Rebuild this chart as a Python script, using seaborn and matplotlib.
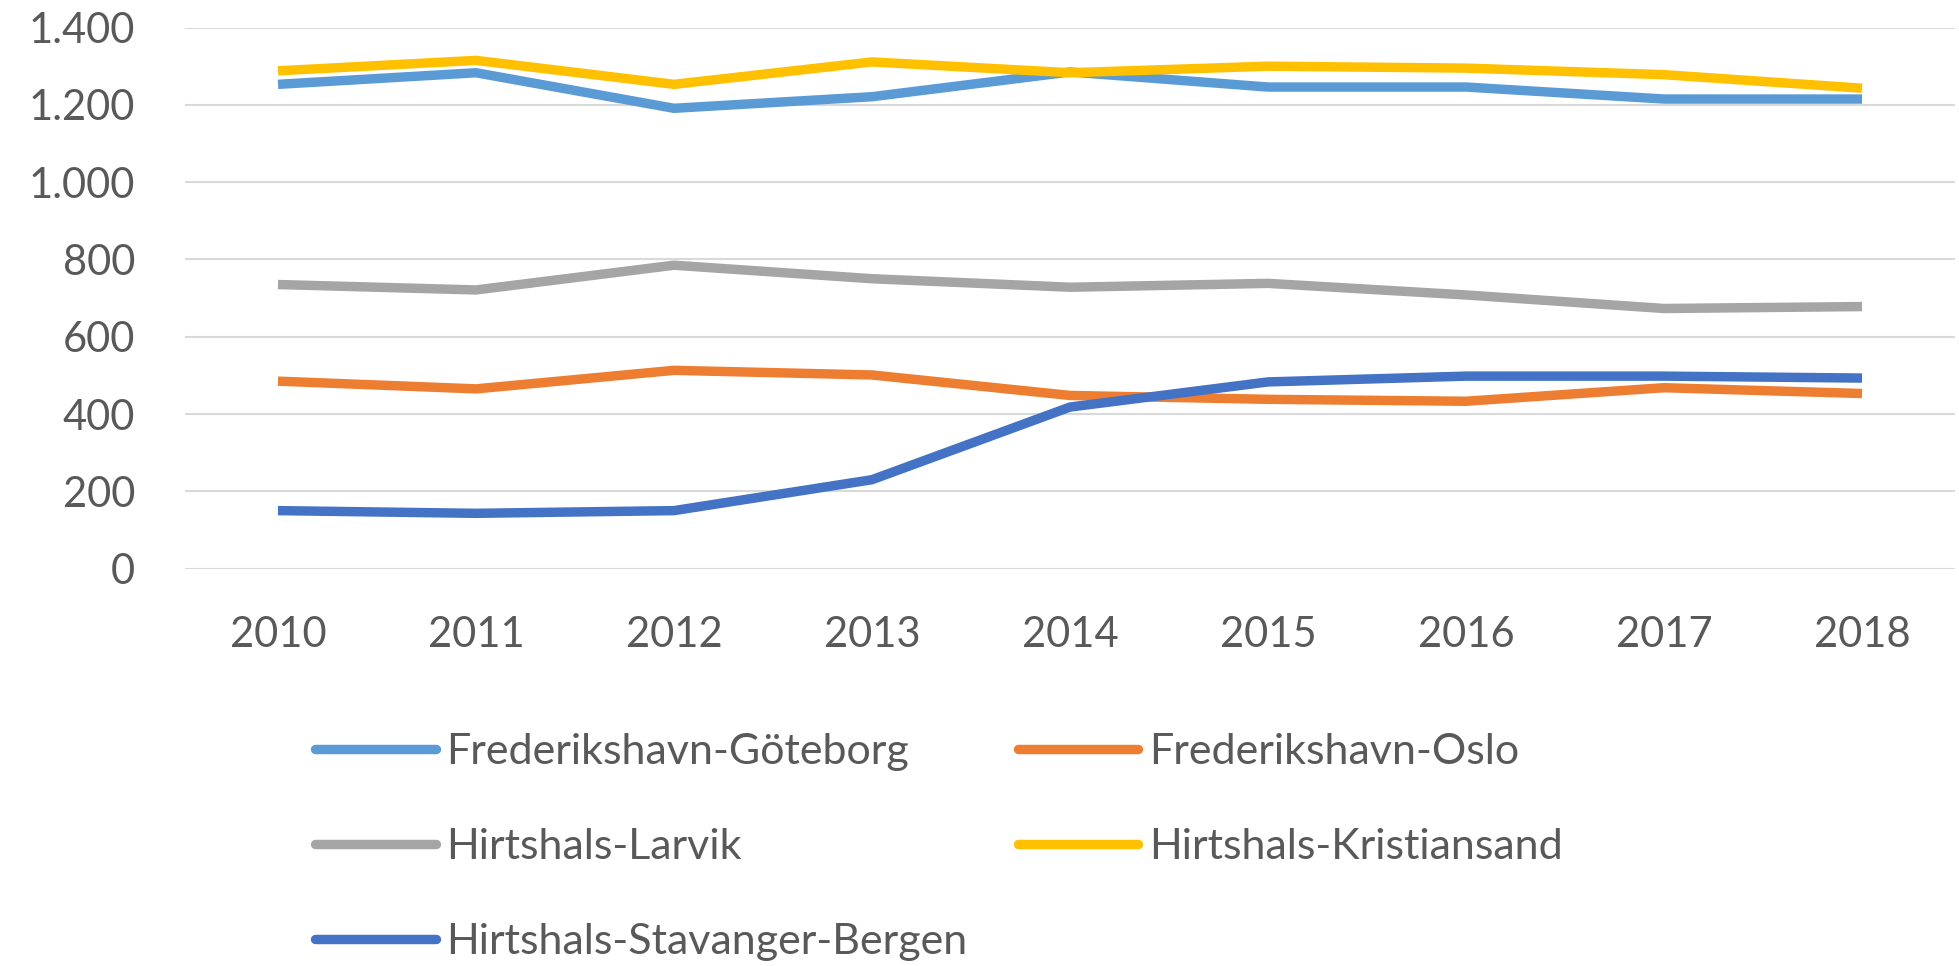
import numpy as np
import pandas as pd
import matplotlib
matplotlib.use("Agg")
import matplotlib.pyplot as plt
import seaborn as sns

years = [2010, 2011, 2012, 2013, 2014, 2015, 2016, 2017, 2018]

frederikshavn_goteborg = [1253, 1283, 1191, 1221, 1285, 1246, 1246, 1215, 1215]
frederikshavn_oslo = [485, 465, 513, 501, 448, 438, 433, 468, 453]
hirtshals_larvik = [735, 721, 785, 750, 728, 738, 708, 673, 678]
hirtshals_kristiansand = [1288, 1315, 1253, 1311, 1283, 1300, 1295, 1278, 1243]
hirtshals_stavanger_bergen = [150, 143, 150, 230, 418, 483, 498, 498, 493]

routes = [
    "Frederikshavn-Göteborg",
    "Frederikshavn-Oslo",
    "Hirtshals-Larvik",
    "Hirtshals-Kristiansand",
    "Hirtshals-Stavanger-Bergen",
]
colors = ["#5B9BD5", "#ED7D31", "#A5A5A5", "#FFC000", "#4472C4"]

series = [
    frederikshavn_goteborg,
    frederikshavn_oslo,
    hirtshals_larvik,
    hirtshals_kristiansand,
    hirtshals_stavanger_bergen,
]

df = pd.DataFrame(
    [(y, v, r) for r, vals in zip(routes, series) for y, v in zip(years, vals)],
    columns=["year", "value", "route"],
)

sns.set_theme(style="white")
plt.rcParams["font.family"] = ["Lato", "DejaVu Sans"]

fig = plt.figure(figsize=(19.59, 9.66), dpi=100)
ax = fig.add_axes([0.0944, 0.4114, 0.9036, 0.5601])

sns.lineplot(
    data=df,
    x="year",
    y="value",
    hue="route",
    hue_order=routes,
    palette=dict(zip(routes, colors)),
    linewidth=6.8,
    ax=ax,
    legend=False,
)
for line in ax.lines:
    line.set_solid_joinstyle("round")
    line.set_solid_capstyle("butt")

ax.set_xlim(2010 - 0.47, 2018 + 0.47)
ax.set_ylim(0, 1400)
ax.set_yticks(np.arange(0, 1401, 200))
ax.set_yticklabels([f"{v:,}".replace(",", ".") for v in range(0, 1401, 200)])
ax.set_xticks(years)
ax.set_xticklabels([str(y) for y in years])
ax.yaxis.grid(True, color="#d9d9d9", linewidth=1.5)
ax.set_axisbelow(True)
for s in ax.spines.values():
    s.set_visible(False)
ax.tick_params(axis="both", length=0, labelsize=30, colors="#595959")
ax.tick_params(axis="y", pad=36)
ax.tick_params(axis="x", pad=34)
ax.set_xlabel("")
ax.set_ylabel("")

# legend, column-major fill so rows read like the reference
order = [0, 2, 4, 1, 3]
handles = [plt.Line2D([], [], color=colors[i], linewidth=6.8) for i in order]
labels = [routes[i] for i in order]
fig.legend(
    handles,
    labels,
    ncol=2,
    loc="upper left",
    bbox_to_anchor=(0.152, 0.259),
    frameon=False,
    fontsize=31,
    labelcolor="#595959",
    handlelength=2.8,
    handletextpad=0.25,
    columnspacing=1.17,
    labelspacing=1.32,
    borderaxespad=0,
)

fig.savefig("out.png", dpi=100, facecolor="white")
